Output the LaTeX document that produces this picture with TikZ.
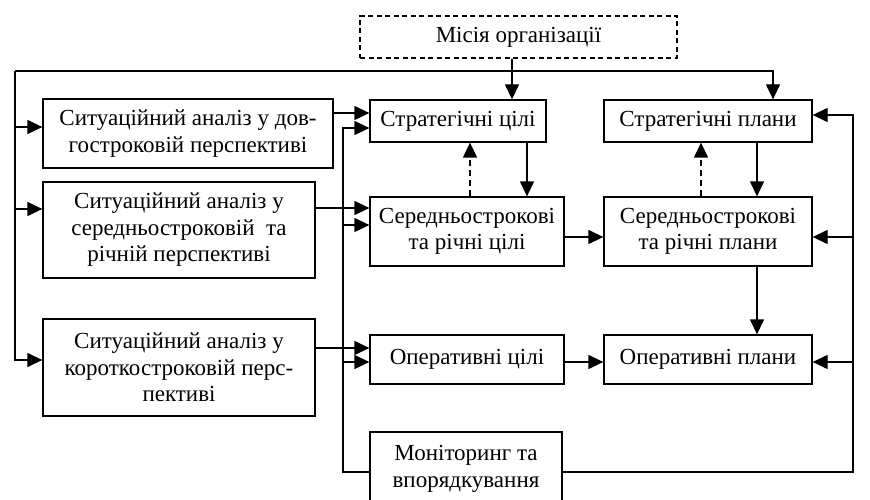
\documentclass[tikz,border=0pt]{standalone}
\usepackage{fontspec}
\setmainfont{Liberation Serif}
\usetikzlibrary{arrows.meta}

\begin{document}
\begin{tikzpicture}[x=1pt, y=-1pt, line width=1.3pt,
    >={Triangle[length=15pt, width=14pt]},
    every node/.style={font=\fontsize{23}{26.5}\selectfont},
    box/.style={draw, rectangle, align=center, inner sep=0pt},
    dashbox/.style={box, dash pattern=on 5pt off 3.5pt}]
    \useasboundingbox (0, 0) rectangle (870, 500);

    \node[dashbox, minimum width=317pt, minimum height=42pt] at (518.5, 37) (mis) {Місія організації};

    \node[box, minimum width=290pt, minimum height=69pt] at (188, 133.5) (L1) {Ситуаційний аналіз у дов-\\гостроковій перспективі};
    \node[box, minimum width=272pt, minimum height=96pt] at (179, 230) (L2) {Ситуаційний аналіз у\\середньостроковій\ \ та\\річній перспективі};
    \node[box, minimum width=272pt, minimum height=97pt] at (179, 367.5) (L3) {Ситуаційний аналіз у\\короткостроковій перс-\\пективі};

    \node[box, minimum width=176pt, minimum height=42pt] at (458, 121) (SC) {Стратегічні цілі};
    \node[box, minimum width=194pt, minimum height=69pt] at (467, 231.5) (MC) {Середньострокові\\та річні цілі};
    \node[box, minimum width=194pt, minimum height=49pt] at (467, 359.5) (OC) {Оперативні цілі};
    \node[box, minimum width=192pt, minimum height=74pt] at (466, 469) (MON) {Моніторинг та\\впорядкування};

    \node[box, minimum width=208pt, minimum height=42pt] at (708, 121) (SP) {Стратегічні плани};
    \node[box, minimum width=208pt, minimum height=69pt] at (708, 231.5) (MP) {Середньострокові\\та річні плани};
    \node[box, minimum width=208pt, minimum height=49pt] at (708, 359.5) (OP) {Оперативні плани};

    \coordinate (tl) at (15, 71);
    \coordinate (tr) at ([xshift=65pt]SP.north |- tl);
    \coordinate (bl) at (343, 472);
    \coordinate (br) at (853, 472);

    \coordinate (in1) at ([yshift=6.5pt]L1.west);
    \coordinate (in2) at ([yshift=21pt]L2.west);
    \coordinate (in3) at ([yshift=7.5pt]L3.west);

    \coordinate (sc1) at ([yshift=8pt]SC.west);
    \coordinate (sc2) at ([yshift=-7pt]SC.west);
    \coordinate (mc1) at ([yshift=23.5pt]MC.west);
    \coordinate (mc2) at ([yshift=6.5pt]MC.west);
    \coordinate (oc1) at ([yshift=11.5pt]OC.west);
    \coordinate (oc2) at ([yshift=-2.5pt]OC.west);

    \coordinate (sp1) at ([yshift=6pt]SP.east);
    \coordinate (mp1) at ([yshift=-5.5pt]MP.east);
    \coordinate (op1) at ([yshift=-2.5pt]OP.east);
    \coordinate (mp0) at ([yshift=-5.5pt]MP.west);
    \coordinate (op0) at ([yshift=-2.5pt]OP.west);

    \draw[->] ([xshift=54pt]SC.north |- mis.south) -- ([xshift=54pt]SC.north);
    \draw[->] (tl) -- (tr) -- (tr |- SP.north);
    \draw[->] (tl) |- (in3);
    \draw[->] (tl |- in1) -- (in1);
    \draw[->] (tl |- in2) -- (in2);

    \draw[->] (L1.east |- sc1) -- (sc1);
    \draw[->] (L2.east |- mc1) -- (mc1);
    \draw[->] (L3.east |- oc1) -- (oc1);

    \draw[->] (bl -| MON.west) -- (bl) |- (sc2);
    \draw[->] (bl |- mc2) -- (mc2);
    \draw[->] (bl |- oc2) -- (oc2);

    \draw[->] (br -| MON.east) -- (br) |- (sp1);
    \draw[->] (br |- mp1) -- (mp1);
    \draw[->] (br |- op1) -- (op1);

    \draw[->] ([xshift=69pt]SC.south) -- ([xshift=69pt]SC.south |- MC.north);
    \draw[->, dash pattern=on 6pt off 4pt] ([xshift=3pt]MC.north) -- ([xshift=3pt]MC.north |- SC.south);
    \draw[->] ([xshift=49pt]SP.south) -- ([xshift=49pt]SP.south |- MP.north);
    \draw[->, dash pattern=on 6pt off 4pt] ([xshift=-7pt]MP.north) -- ([xshift=-7pt]MP.north |- SP.south);
    \draw[->] ([xshift=49pt]MP.south) -- ([xshift=49pt]MP.south |- OP.north);

    \draw[->] (MC.east |- mp0) -- (mp0);
    \draw[->] (OC.east |- op0) -- (op0);
\end{tikzpicture}
\end{document}
